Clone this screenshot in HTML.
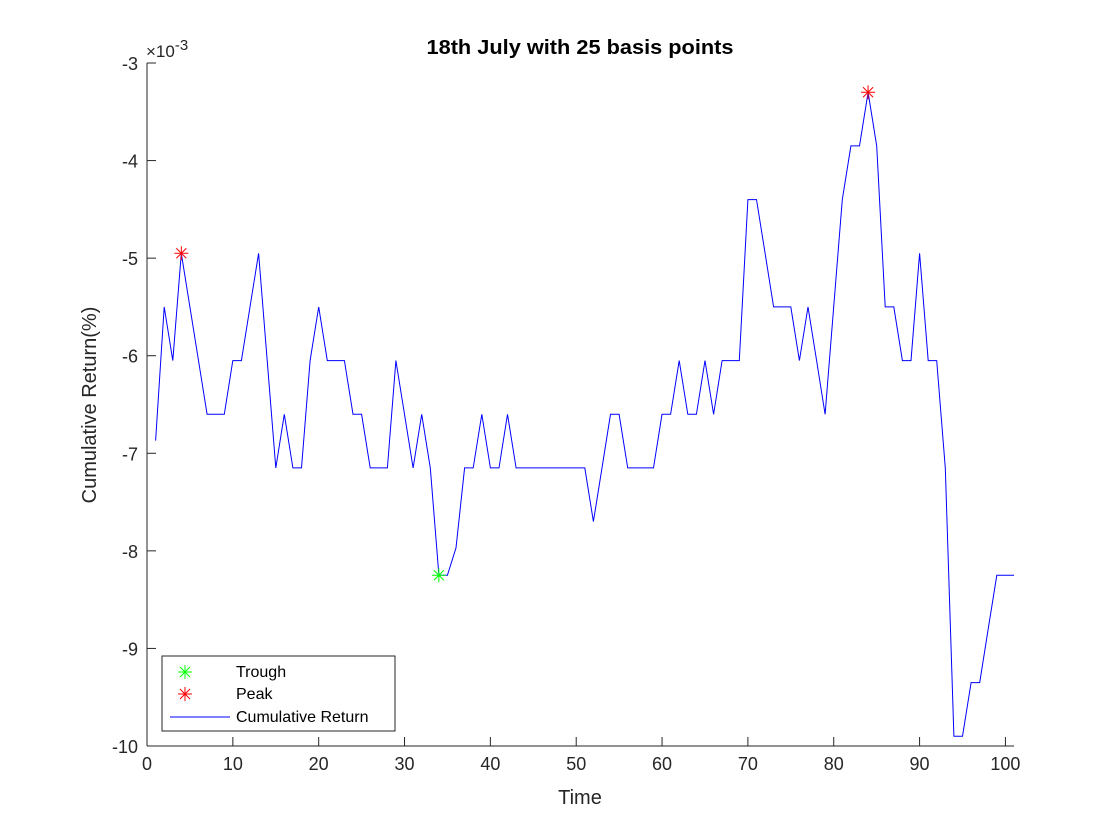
<!DOCTYPE html>
<html><head><meta charset="utf-8"><style>
body{margin:0;background:#fff;}
svg{display:block;font-family:"Liberation Sans",sans-serif;}
</style></head><body>
<svg id="chart" width="1120" height="840">
<rect width="1120" height="840" fill="#fff"/>
<text x="580" y="54" text-anchor="middle" font-size="20" font-weight="bold" fill="#000" textLength="307" lengthAdjust="spacingAndGlyphs">18th July with 25 basis points</text>
<text x="580" y="804" text-anchor="middle" font-size="20" fill="#262626">Time</text>
<text transform="translate(96,405) rotate(-90)" text-anchor="middle" font-size="20" fill="#262626">Cumulative Return(%)</text>
<text x="146" y="57" font-size="17" fill="#262626">×10<tspan dy="-7" font-size="15">-3</tspan></text>
<g id="axes"></g>
<g id="series"></g>
<g id="legend">
<rect x="162" y="656" width="233" height="75" fill="#fff" stroke="#262626" stroke-width="1"/>
</g>
</svg>
<script>
const xTicks=[0,10,20,30,40,50,60,70,80,90,100];
const yTicks=[-3,-4,-5,-6,-7,-8,-9,-10];
const values=[-6.87,-5.5,-6.05,-4.95,-5.5,-6.05,-6.6,-6.6,-6.6,-6.05,
-6.05,-5.5,-4.95,-6.05,-7.15,-6.6,-7.15,-7.15,-6.05,-5.5,
-6.05,-6.05,-6.05,-6.6,-6.6,-7.15,-7.15,-7.15,-6.05,-6.6,
-7.15,-6.6,-7.15,-8.25,-8.25,-7.97,-7.15,-7.15,-6.6,-7.15,
-7.15,-6.6,-7.15,-7.15,-7.15,-7.15,-7.15,-7.15,-7.15,-7.15,
-7.15,-7.7,-7.15,-6.6,-6.6,-7.15,-7.15,-7.15,-7.15,-6.6,
-6.6,-6.05,-6.6,-6.6,-6.05,-6.6,-6.05,-6.05,-6.05,-4.4,
-4.4,-4.95,-5.5,-5.5,-5.5,-6.05,-5.5,-6.05,-6.6,-5.5,
-4.4,-3.85,-3.85,-3.3,-3.85,-5.5,-5.5,-6.05,-6.05,-4.95,
-6.05,-6.05,-7.15,-9.9,-9.9,-9.35,-9.35,-8.8,-8.25,-8.25,-8.25];
const troughX=[34], troughY=[-8.25];
const peakX=[4,84], peakY=[-4.95,-3.3];
const NS='http://www.w3.org/2000/svg';
const L=147,R=1014,T=63,B=746,XMIN=0,XMAX=101,YMIN=-10,YMAX=-3;
function sx(t){return L+(t-XMIN)/(XMAX-XMIN)*(R-L);}
function sy(v){return B-(v-YMIN)/(YMAX-YMIN)*(B-T);}
function mk(tag,attrs,parent){const e=document.createElementNS(NS,tag);for(const k in attrs)e.setAttribute(k,attrs[k]);parent.appendChild(e);return e;}
const axes=document.getElementById('axes');
const xa=mk('line',{x1:L,y1:B,x2:R,y2:B,stroke:'#262626','stroke-width':1},axes);


const ya=mk('line',{x1:L,y1:T,x2:L,y2:B,stroke:'#262626','stroke-width':1},axes);


xTicks.forEach(t=>{
 mk('line',{x1:sx(t),y1:B,x2:sx(t),y2:B-9,stroke:'#262626'},axes);
 const tx=mk('text',{x:sx(t),y:B+24,'text-anchor':'middle','font-size':18,fill:'#262626'},axes);
 tx.textContent=t;
 
 
});
yTicks.forEach(v=>{
 mk('line',{x1:L,y1:sy(v),x2:L+9,y2:sy(v),stroke:'#262626'},axes);
 const tx=mk('text',{x:L-9,y:sy(v)+7,'text-anchor':'end','font-size':18,fill:'#262626'},axes);
 tx.textContent=v;
 
 
});
const series=document.getElementById('series');
const pts=values.map((v,i)=>sx(i+1).toFixed(1)+','+sy(v).toFixed(1)).join(' ');
const pl=mk('polyline',{points:pts,fill:'none',stroke:'#0000ff','stroke-width':1},series);


function star(x,y,c,parent){
 const g=mk('g',{stroke:c,'stroke-width':1},parent);
 const r=7;
 mk('line',{x1:x-r,y1:y,x2:x+r,y2:y},g);
 mk('line',{x1:x,y1:y-r,x2:x,y2:y+r},g);
 mk('line',{x1:x-5,y1:y-5,x2:x+5,y2:y+5},g);
 mk('line',{x1:x-5,y1:y+5,x2:x+5,y2:y-5},g);
 return g;
}
troughX.forEach((t,i)=>{const g=star(sx(t),sy(troughY[i]),'#00ff00',series);
 
 });
peakX.forEach((t,i)=>{const g=star(sx(t),sy(peakY[i]),'#ff0000',series);
 
 });
const lg=document.getElementById('legend');
const entries=[['Trough','#00ff00',672,'star'],['Peak','#ff0000',694,'star'],['Cumulative Return','#0000ff',717,'line']];
entries.forEach(e=>{
 const g=mk('g',{},lg);
 
 
 if(e[3]==='star')star(185,e[2],e[1],g);
 else mk('line',{x1:170,y1:e[2],x2:230,y2:e[2],stroke:e[1],'stroke-width':1},g);
 const t=mk('text',{x:236,y:e[2]+5,'font-size':16,fill:'#000'},g);
 t.textContent=e[0];
});
</script>
</body></html>
